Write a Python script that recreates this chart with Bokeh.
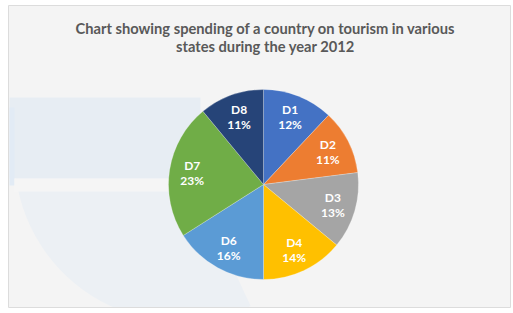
import math
from bokeh.plotting import figure
from bokeh.models import ColumnDataSource, Range1d
from bokeh.embed import file_html
from bokeh.resources import INLINE
from bokeh.core.properties import value

# ---- data ----
categories = ["D1", "D2", "D3", "D4", "D6", "D7", "D8"]
shares = [12, 11, 13, 14, 16, 23, 11]
colors = ["#4472C4", "#ED7D31", "#A5A5A5", "#FFC000", "#5B9BD5", "#70AD47", "#264478"]
title_lines = ["Chart showing spending of a country on tourism in various",
               "states during the year 2012"]

W, H = 513, 313


def Y(img_y):
    return H - img_y


CX, CY, R = 263, Y(184), 95
LABEL_R = 0.76 * R

total = sum(shares)
starts, ends, lx, ly, pct = [], [], [], [], []
cum = 0.0
for s in shares:
    a0 = math.pi / 2 - 2 * math.pi * cum / total
    a1 = math.pi / 2 - 2 * math.pi * (cum + s) / total
    starts.append(a1)
    ends.append(a0)
    mid = (a0 + a1) / 2
    lx.append(CX + LABEL_R * math.cos(mid))
    ly.append(CY + LABEL_R * math.sin(mid))
    pct.append(f"{s}%")
    cum += s

src = ColumnDataSource(dict(start=starts, end=ends, color=colors, cat=categories,
                            pct=pct, lx=lx,
                            ly1=[y + 7.5 for y in ly], ly2=[y - 7.5 for y in ly]))

p = figure(width=W, height=H, output_backend="svg", toolbar_location=None,
           x_range=Range1d(0, W), y_range=Range1d(0, H), min_border=0,
           background_fill_color="white", border_fill_color="white",
           outline_line_color=None)
p.axis.visible = False
p.grid.visible = False

# chart panel
p.quad(left=[8], right=[510], top=[Y(5)], bottom=[Y(307)],
       fill_color="#f4f4f4", line_color=None)

# faint decorative background swoosh
p.annular_wedge(x=[180], y=[Y(155)], inner_radius=0, outer_radius=166,
                start_angle=math.radians(180), end_angle=math.radians(295),
                fill_color="#ecf0f4", line_color=None)
p.quad(left=[9], right=[200], top=[Y(97)], bottom=[Y(178)],
       fill_color="#e7edf3", line_color=None)
p.quad(left=[9], right=[14], top=[Y(107)], bottom=[Y(185)],
       fill_color="#e2ebf5", line_color=None)
p.quad(left=[14], right=[230], top=[Y(178)], bottom=[Y(191)],
       fill_color="#f5f5f5", line_color=None)

# mask anything outside the panel, then its border
p.quad(left=[0], right=[W], top=[Y(307)], bottom=[0],
       fill_color="white", line_color=None)
p.quad(left=[8], right=[510], top=[Y(5)], bottom=[Y(307)],
       fill_color=None, line_color="#dcdcdc", line_width=1)

# pie
p.wedge(x=CX, y=CY, radius=R, start_angle="start", end_angle="end",
        fill_color="color", line_color="white", line_width=0.6, line_alpha=0.4,
        source=src)

p.text(x="lx", y="ly1", text="cat", source=src, text_color="white",
       text_font=value("Lato"), text_font_style="bold", text_font_size="12px",
       text_align="center", text_baseline="middle")
p.text(x="lx", y="ly2", text="pct", source=src, text_color="white",
       text_font=value("Lato"), text_font_style="bold", text_font_size="12px",
       text_align="center", text_baseline="middle")

# title
p.text(x=[265, 265], y=[Y(27), Y(45)], text=title_lines, text_color="#595959",
       text_font=value("Lato"), text_font_style="bold", text_font_size="14.7px",
       text_align="center", text_baseline="middle")

open("out.html", "w").write(file_html(p, INLINE))
